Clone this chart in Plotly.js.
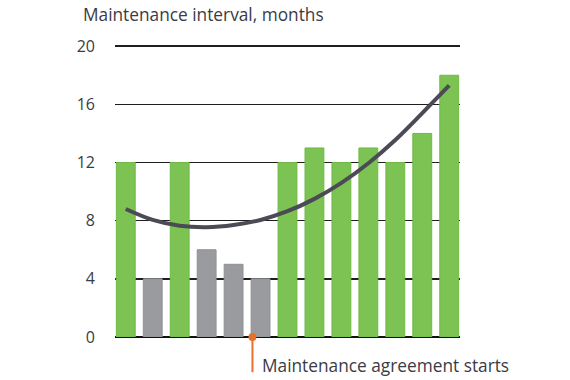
<!DOCTYPE html>
<html>
<head>
<meta charset="utf-8">
<script src="https://cdn.plot.ly/plotly-3.0.1.min.js"></script>
<style>html,body{margin:0;padding:0;background:#fff;}#chart{width:570px;height:380px;}</style>
</head>
<body>
<div id="chart"></div>
<script>
// Bars
const barIndex = [0,1,2,3,4,5,6,7,8,9,10,11,12];
const barValues = [12,4,12,6,5,4,12,13,12,13,12,14,18];
const barColors = ["#7dc353","#9a9b9f","#7dc353","#9a9b9f","#9a9b9f","#9a9b9f","#7dc353","#7dc353","#7dc353","#7dc353","#7dc353","#7dc353","#7dc353"];
const barEdges = ["#6fba45","#909195","#6fba45","#909195","#909195","#909195","#6fba45","#6fba45","#6fba45","#6fba45","#6fba45","#6fba45","#6fba45"];
// Trend curve
const curveX = [0, 1, 2, 3, 4, 5, 6, 7, 8, 9, 10, 11, 12];
const curveY = [8.8, 8.05, 7.65, 7.55, 7.7, 8.05, 8.65, 9.5, 10.6, 11.95, 13.55, 15.4, 17.3];
// Axis ticks
const yTicks = [0,4,8,12,16,20];
const yTitle = "Maintenance interval, months";
const markerLabel = "Maintenance agreement starts";
const agreementX = 4.7;

const font = "Open Sans, Noto Sans, sans-serif";
const textColor = "#3b3b45";

const traces = [
  {type:"bar", x:barIndex, y:barValues, marker:{color:barColors, line:{width:1, color:barEdges}}, hoverinfo:"none"},
  {type:"scatter", mode:"lines", x:curveX, y:curveY, line:{color:"#4b4a55", width:4, shape:"spline", smoothing:1}, hoverinfo:"none"},
  {type:"scatter", mode:"markers", x:[agreementX], y:[0], cliponaxis:false, marker:{color:"#e8702a", size:8}, hoverinfo:"none"}
];

const layout = {
  width:570, height:380,
  margin:{l:115, r:110, t:44, b:42.5},
  paper_bgcolor:"#fff", plot_bgcolor:"#fff",
  showlegend:false,
  bargap:0.3,
  font:{family:font, color:textColor, size:17},
  xaxis:{range:[-0.4,12.4], showticklabels:false, showgrid:false, zeroline:false, showline:false, ticks:"", fixedrange:true},
  yaxis:{range:[0,20.15], tickvals:yTicks, ticktext:yTicks.map(String), showgrid:true, gridcolor:"#1e1e1e", gridwidth:1.5,
         zeroline:true, zerolinecolor:"#111", zerolinewidth:2, showline:false, ticks:"", ticklabelstandoff:19,
         tickfont:{family:font, size:16, color:textColor}, fixedrange:true},
  shapes:[
    {type:"line", xref:"x", yref:"paper", x0:agreementX, x1:agreementX, y0:0, y1:-0.12, line:{color:"#e8702a", width:2}, layer:"above"}
  ],
  annotations:[
    {text:yTitle, xref:"paper", yref:"paper", x:-0.1, y:1.1, xanchor:"left", yanchor:"middle", showarrow:false, font:{family:font, size:17.3, color:textColor}},
    {text:markerLabel, xref:"x", yref:"paper", x:agreementX, xshift:8, y:-0.097, xanchor:"left", yanchor:"middle", showarrow:false, font:{family:font, size:17.3, color:textColor}}
  ]
};

Plotly.newPlot("chart", traces, layout, {displayModeBar:false, staticPlot:true});
</script>
</body>
</html>
